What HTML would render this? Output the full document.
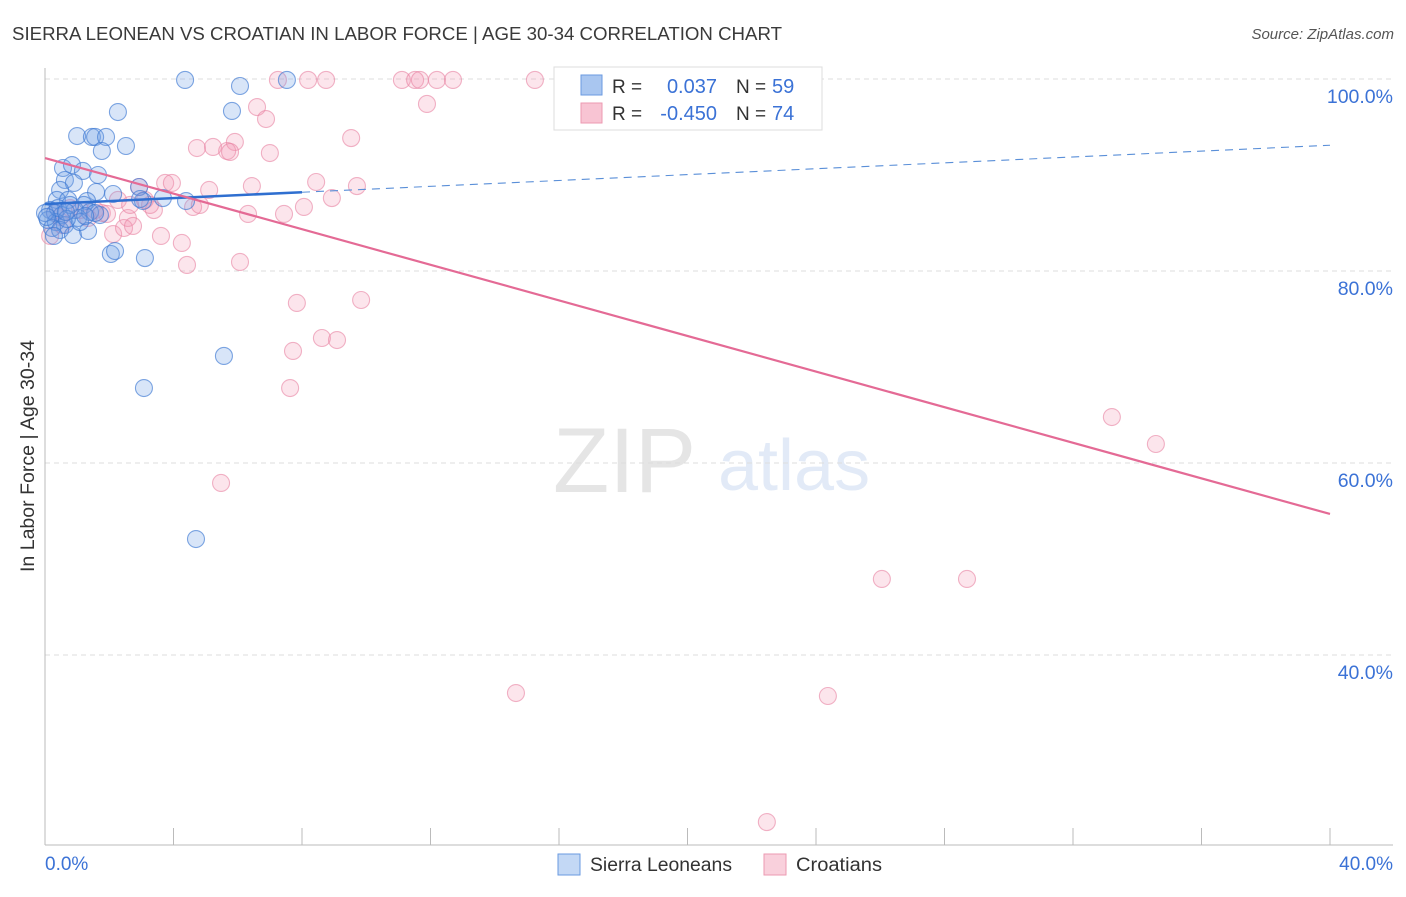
<!DOCTYPE html>
<html><head><meta charset="utf-8"><style>
body{margin:0;background:#fff;font-family:"Liberation Sans",sans-serif}
svg text{font-family:"Liberation Sans",sans-serif}
</style></head><body>
<svg id="chart" width="1406" height="892" xmlns="http://www.w3.org/2000/svg">
<text x="12" y="40" font-size="18" fill="#3a3a3a" textLength="770" lengthAdjust="spacingAndGlyphs">SIERRA LEONEAN VS CROATIAN IN LABOR FORCE | AGE 30-34 CORRELATION CHART</text>
<text x="1394" y="39" font-size="15" fill="#555" font-style="italic" text-anchor="end">Source: ZipAtlas.com</text>
<g opacity="0.25">
<text x="553" y="492" font-size="92" fill="#999" font-family="Liberation Serif, serif">ZIP</text>
<text x="718" y="490" font-size="72" fill="#8fb0e0">atlas</text>
</g>
<g id="grid"></g>
<g id="axes"></g>
<g id="pts"></g>
<g id="trend"></g>
<text transform="translate(34,456) rotate(-90)" font-size="19" fill="#333" text-anchor="middle" textLength="232" lengthAdjust="spacingAndGlyphs">In Labor Force | Age 30-34</text>
<text x="45" y="870" font-size="19" fill="#3b72d6">0.0%</text>
<text x="1393" y="870" font-size="19" fill="#3b72d6" text-anchor="end">40.0%</text>
<g>
<rect x="554" y="67" width="268" height="63" fill="#fff" stroke="#ddd"/>
<rect x="581" y="75" width="21" height="20" fill="#a9c6f0" stroke="#6a9ae0"/>
<rect x="581" y="103" width="21" height="20" fill="#f8c4d3" stroke="#ec9ab2"/>
<text x="612" y="93" font-size="19" fill="#333">R =</text>
<text x="717" y="93" font-size="20" fill="#3b72d6" text-anchor="end">0.037</text>
<text x="736" y="93" font-size="19" fill="#333">N =</text>
<text x="772" y="93" font-size="20" fill="#3b72d6">59</text>
<text x="612" y="120" font-size="19" fill="#333">R =</text>
<text x="717" y="120" font-size="20" fill="#3b72d6" text-anchor="end">-0.450</text>
<text x="736" y="120" font-size="19" fill="#333">N =</text>
<text x="772" y="120" font-size="20" fill="#3b72d6">74</text>
</g>
<g>
<rect x="558" y="854" width="22" height="21" fill="#c3d8f5" stroke="#6a9ae0"/>
<text x="590" y="871" font-size="19" fill="#333" textLength="142" lengthAdjust="spacingAndGlyphs">Sierra Leoneans</text>
<rect x="764" y="854" width="22" height="21" fill="#f9d0dc" stroke="#ec9ab2"/>
<text x="796" y="871" font-size="19" fill="#333" textLength="86" lengthAdjust="spacingAndGlyphs">Croatians</text>
</g>
</svg>
<script>
const yTicks=[100,80,60,40];
const yTickLabels=["100.0%","80.0%","60.0%","40.0%"];
const xTicks=[0,4,8,12,16,20,24,28,32,36,40];
const blueX=[4.36,6.07,7.53,5.82,2.27,1.0,1.46,1.56,1.9,2.52,1.77,0.56,0.84,1.18,1.65,0.62,0.9,0.47,1.59,2.12,2.93,0.37,0.72,1.31,1.21,3.05,4.39,3.67,0.16,0.31,0.53,0.93,1.4,1.71,0.09,0.34,0.62,1.03,1.56,0.22,0.47,0.87,1.34,2.05,2.18,3.11,5.57,3.08,4.7,0,0.4,0.78,1.09,0.68,0.28,2.96,0.06,1.25,0.65];
const blueY=[99.9,99.27,99.9,96.67,96.56,94.06,93.96,93.96,93.96,93.02,92.5,90.73,91.04,90.42,90.0,89.48,89.17,88.44,88.23,88.02,88.75,87.4,87.4,87.29,86.88,87.29,87.29,87.6,86.35,86.04,85.83,86.35,86.15,85.83,85.31,85.1,84.79,85.52,86.04,84.48,84.27,83.75,84.17,81.77,82.08,81.35,71.15,67.81,52.08,86.04,86.56,86.88,85.1,85.42,83.65,87.5,85.63,85.73,86.15];
const pinkX=[7.25,8.19,8.75,11.11,11.52,11.67,12.2,12.7,15.25,23.28,11.89,6.6,6.88,9.53,5.91,4.73,5.23,5.67,5.76,7.0,8.44,9.71,6.44,5.11,3.74,3.95,2.93,3.11,3.39,4.61,6.32,7.44,8.06,8.93,1.77,2.27,1.93,2.58,3.61,4.26,4.42,6.07,2.12,2.46,2.74,1.34,0.47,0.16,0.78,7.84,9.84,8.62,9.09,7.72,7.63,5.48,33.21,34.58,26.05,28.7,14.66,24.37,22.47,0.31,1.09,1.56,0.53,3.27,4.82,2.65];
const pinkY=[99.9,99.9,99.9,99.9,99.9,99.9,99.9,99.9,99.9,99.9,97.4,97.08,95.83,93.85,93.44,92.81,92.92,92.5,92.4,92.29,89.27,88.85,88.85,88.44,89.17,89.17,88.75,87.4,86.35,86.67,85.94,85.94,86.67,87.6,86.04,87.4,85.94,85.52,83.65,82.92,80.63,80.94,83.85,84.48,84.69,85.52,85.63,83.65,86.56,76.67,76.98,73.02,72.81,71.67,67.81,57.92,64.79,61.98,47.92,47.92,36.04,35.73,22.6,86.04,86.35,86.35,84.79,86.88,86.88,86.88];
const blueTrend=[86.98,93.1];
const blueSolidEnd=8;
const pinkTrend=[91.77,54.69];

const NS="http://www.w3.org/2000/svg";
const X=v=>45+v*32.125;
const Y=v=>79+(100-v)*9.6;
function mk(t,a,p){const e=document.createElementNS(NS,t);for(const k in a)e.setAttribute(k,a[k]);p.appendChild(e);return e;}
const grid=document.getElementById('grid'),axes=document.getElementById('axes'),pts=document.getElementById('pts'),trend=document.getElementById('trend');
yTicks.forEach((t,i)=>{
  const l=mk('line',{x1:45,x2:1393,y1:Y(t),y2:Y(t),stroke:'#ddd','stroke-dasharray':'5,4'},grid);
  
  
  const tx=mk('text',{x:1393,y:Y(t)+24,'font-size':19.5,fill:'#3b72d6','text-anchor':'end'},grid);
  tx.textContent=yTickLabels[i];
  
  
});
mk('line',{x1:45,x2:45,y1:68,y2:845,stroke:'#bbb'},axes);
mk('line',{x1:45,x2:1393,y1:845,y2:845,stroke:'#bbb'},axes);
xTicks.forEach(t=>{
  const l=mk('line',{x1:X(t),x2:X(t),y1:828,y2:845,stroke:'#bbb'},axes);
  
  
});
pinkX.forEach((v,i)=>{
  const c=mk('circle',{cx:X(v),cy:Y(pinkY[i]),r:8.5,fill:'rgba(242,150,180,0.25)',stroke:'rgba(232,130,162,0.6)','stroke-width':1.1},pts);
  
  
});
blueX.forEach((v,i)=>{
  const c=mk('circle',{cx:X(v),cy:Y(blueY[i]),r:8.5,fill:'rgba(110,160,230,0.27)',stroke:'rgba(60,120,210,0.65)','stroke-width':1.1},pts);
  
  
});
const bAt=x=>blueTrend[0]+(blueTrend[1]-blueTrend[0])*x/40;
let l1=mk('line',{x1:X(0),y1:Y(bAt(0)),x2:X(blueSolidEnd),y2:Y(bAt(blueSolidEnd)),stroke:'#2f6fd0','stroke-width':2.5},trend);


let l2=mk('line',{x1:X(blueSolidEnd),y1:Y(bAt(blueSolidEnd)),x2:X(40),y2:Y(bAt(40)),stroke:'#5a8fd8','stroke-width':1.1,'stroke-dasharray':'8,6'},trend);


let l3=mk('line',{x1:X(0),y1:Y(pinkTrend[0]),x2:X(40),y2:Y(pinkTrend[1]),stroke:'#e46a95','stroke-width':2.2},trend);


</script>
</body></html>
